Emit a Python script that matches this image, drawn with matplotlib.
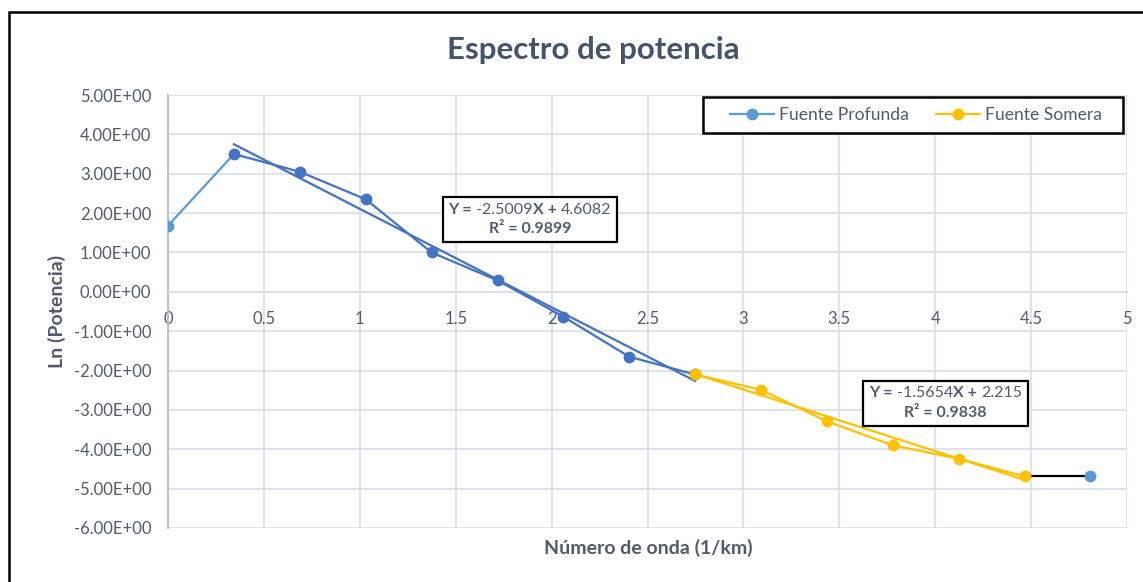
import matplotlib
matplotlib.use("Agg")
import matplotlib.pyplot as plt
from matplotlib.patches import Rectangle
from matplotlib.lines import Line2D
from matplotlib.offsetbox import TextArea, HPacker, VPacker, AnchoredOffsetbox
import numpy as np

plt.rcParams['font.family'] = ['Lato', 'DejaVu Sans']

# Número de onda (1/km) y Ln(potencia)
k_prof = [0.0, 0.344, 0.687, 1.031, 1.374, 1.718, 2.061, 2.405, 2.748]
ln_prof = [1.68, 3.50, 3.05, 2.35, 1.00, 0.29, -0.63, -1.65, -2.10]
k_som = [2.748, 3.092, 3.435, 3.779, 4.122, 4.466]
ln_som = [-2.10, -2.49, -3.29, -3.90, -4.24, -4.69]
k_ult = [4.466, 4.809]
ln_ult = [-4.69, -4.69]

# ajustes lineales
m_prof, b_prof, r2_prof = -2.5009, 4.6082, 0.9899
m_som, b_som, r2_som = -1.5654, 2.215, 0.9838

azul_claro = '#5B9BD5'
azul = '#4472C4'
amarillo = '#FFC000'
gris = '#515b6b'
rejilla = '#d9dee7'

W, H = 1143, 582
fig = plt.figure(figsize=(W / 100, H / 100), dpi=100)
ax = fig.add_axes([168 / W, 1 - 528 / H, (1127 - 168) / W, (528 - 95) / H])

ms = 7.5
lw = 1.6
ax.plot(k_prof[:2], ln_prof[:2], color=azul_claro, lw=lw, zorder=3)
ax.plot(k_prof[0], ln_prof[0], 'o', color=azul_claro, ms=ms, zorder=4)
ax.plot(k_prof[1:], ln_prof[1:], '-o', color=azul, lw=lw, ms=ms, zorder=4)
ax.plot(k_som, ln_som, '-o', color=amarillo, lw=lw, ms=ms, zorder=4)
ax.plot(k_ult, ln_ult, color='black', lw=lw, zorder=3)
ax.plot(k_ult[1], ln_ult[1], 'o', color=azul_claro, ms=ms, zorder=4)

# líneas de tendencia
xt = np.array([k_prof[1], k_prof[-1]])
ax.plot(xt, m_prof * xt + b_prof, color=azul, lw=lw, zorder=3)
xs = np.array([k_som[0], k_som[-1]])
ax.plot(xs, m_som * xs + b_som, color=amarillo, lw=lw, zorder=3)

ax.set_xlim(0, 5)
ax.set_ylim(-6, 5)
ax.set_xticks(np.arange(0, 5.01, 0.5))
ax.set_xticklabels(['0', '0.5', '1', '1.5', '2', '2.5', '3', '3.5', '4', '4.5', '5'])
ax.set_yticks(np.arange(-6, 5.01, 1))
ax.set_yticklabels([f'{v:.2f}E+00' if v >= 0 else f'-{abs(v):.2f}E+00' for v in np.arange(-6, 5.01, 1)])
ax.grid(True, color=rejilla, lw=1.2)
ax.set_axisbelow(True)
for s in ['top', 'right']:
    ax.spines[s].set_visible(False)
ax.spines['bottom'].set_position(('data', 0))
ax.spines['bottom'].set_color(rejilla)
ax.spines['bottom'].set_linewidth(1.2)
ax.spines['left'].set_color('#b7c1d1')
ax.spines['left'].set_linewidth(1.4)
ax.tick_params(length=0, labelsize=12, labelcolor=gris)
ax.tick_params(axis='x', pad=14)
ax.tick_params(axis='y', pad=12)

fig.text(593 / W, 1 - 50 / H, 'Espectro de potencia', ha='center', va='center',
         fontsize=22.5, fontweight='bold', color='#44546A')
fig.text(648 / W, 1 - 548 / H, 'Número de onda (1/km)', ha='center', va='center',
         fontsize=14, fontweight='bold', color=gris)
fig.text(57 / W, 1 - 311 / H, 'Ln (Potencia)', ha='center', va='center', rotation=90,
         fontsize=14, fontweight='bold', color=gris)


def ecuacion(m, b, r2, x, y):
    """Caja con la ecuación de la tendencia, partes en negrita como en Excel."""
    fs = 11.5
    normal = dict(color=gris, fontsize=fs)
    negrita = dict(color=gris, fontsize=fs, fontweight='bold')
    pendiente = HPacker(children=[TextArea(f'{m}', textprops=normal),
                                  TextArea('X +', textprops=negrita)],
                        align='baseline', pad=0, sep=0)
    linea1 = HPacker(children=[TextArea('Y =', textprops=negrita),
                               pendiente,
                               TextArea(f'{b}', textprops=normal)],
                     align='baseline', pad=0, sep=3)
    linea2 = TextArea(f'R² = {r2}', textprops=negrita)
    bloque = VPacker(children=[linea1, linea2], align='center', pad=0, sep=4)
    caja = AnchoredOffsetbox(loc='center', child=bloque, pad=0.4, borderpad=0,
                             frameon=True, bbox_to_anchor=(x, y),
                             bbox_transform=ax.transData)
    caja.patch.set_boxstyle('square', pad=0)
    caja.patch.set_edgecolor('black')
    caja.patch.set_linewidth(1.6)
    caja.set_zorder(5)
    ax.add_artist(caja)


# ecuaciones de las tendencias
ecuacion(m_prof, b_prof, r2_prof, 1.887, 1.84)
ecuacion(m_som, b_som, r2_som, 4.054, -2.83)

handles = [Line2D([], [], color=azul_claro, marker='o', lw=lw, ms=ms),
           Line2D([], [], color=amarillo, marker='o', lw=lw, ms=ms)]
leg = fig.legend(handles, ['Fuente Profunda', 'Fuente Somera'], ncol=2,
                 loc='center', bbox_to_anchor=(916 / W, 1 - 115 / H),
                 frameon=False, fontsize=12.6, labelcolor=gris,
                 borderaxespad=0, borderpad=0, handlelength=2.5,
                 columnspacing=1.6, handletextpad=0.25)

# marco de la leyenda
fig.patches.append(Rectangle((703 / W, 1 - 133 / H), (1123 - 703) / W, 36 / H,
                             transform=fig.transFigure, facecolor='white',
                             edgecolor='black', lw=1.8, zorder=0))

# marco exterior del gráfico
fig.patches.append(Rectangle((9 / W, -0.1), 2, 1.1 - 12 / H, transform=fig.transFigure,
                             fill=False, edgecolor='black', lw=1.8))

fig.savefig('out.png', dpi=100)
